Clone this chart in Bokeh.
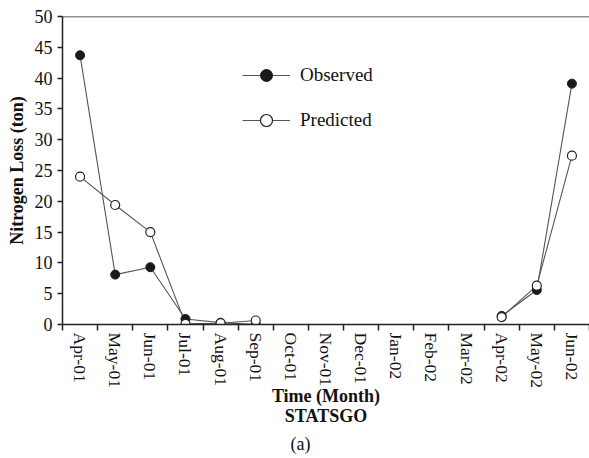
import math
from bokeh.plotting import figure
from bokeh.models import Range1d, FixedTicker, Legend, LegendItem, Span, Title
from bokeh.embed import file_html
from bokeh.resources import INLINE

nan = math.nan

months = ["Apr-01", "May-01", "Jun-01", "Jul-01", "Aug-01", "Sep-01", "Oct-01",
          "Nov-01", "Dec-01", "Jan-02", "Feb-02", "Mar-02", "Apr-02", "May-02", "Jun-02"]
observed = [43.7, 8.1, 9.3, 0.9, 0.3, 0.0, nan, nan, nan, nan, nan, nan, 1.4, 5.6, 39.1]
predicted = [24.0, 19.4, 15.0, 0.1, 0.2, 0.65, nan, nan, nan, nan, nan, nan, 1.2, 6.3, 27.4]
y_ticks = [0, 5, 10, 15, 20, 25, 30, 35, 40, 45, 50]

FONT = "Liberation Serif"

xs = [i + 0.5 for i in range(len(months))]
boundaries = list(range(len(months) + 1))

p = figure(width=589, height=458, output_backend="svg", toolbar_location=None,
           x_range=Range1d(0, len(months)), y_range=Range1d(0, 50),
           min_border_left=62, min_border_right=0, min_border_top=16, min_border_bottom=134)
p.outline_line_color = None
p.xgrid.grid_line_color = None
p.ygrid.grid_line_color = None
p.background_fill_color = "white"
p.border_fill_color = "white"

# axes
xa = p.xaxis[0]
xa.ticker = FixedTicker(ticks=xs, minor_ticks=boundaries)
xa.major_label_overrides = {x: m for x, m in zip(xs, months)}
xa.major_label_orientation = "vertical"
xa.major_tick_line_color = None
xa.major_tick_out = 6
xa.major_tick_in = 0
xa.major_label_standoff = 2
xa.minor_tick_out = 6
xa.minor_tick_in = 0
xa.minor_tick_line_color = "#222222"
xa.minor_tick_line_width = 1.5
xa.axis_line_color = "#222222"
xa.axis_line_width = 1.5
xa.major_label_text_font = FONT
xa.major_label_text_font_size = "17.5px"
xa.major_label_text_color = "#111111"
xa.axis_label = "Time (Month)\nSTATSGO"
xa.axis_label_text_font = FONT
xa.axis_label_text_font_style = "bold"
xa.axis_label_text_font_size = "18px"
xa.axis_label_text_color = "#111111"
xa.axis_label_standoff = -5
xa.axis_label_text_line_height = 1.0

ya = p.yaxis[0]
ya.ticker = FixedTicker(ticks=y_ticks)
ya.minor_tick_line_color = None
ya.major_tick_out = 5
ya.major_tick_in = 0
ya.major_tick_line_color = "#222222"
ya.major_tick_line_width = 1.5
ya.axis_line_color = "#222222"
ya.axis_line_width = 1.5
ya.major_label_standoff = 5
ya.major_label_text_font = FONT
ya.major_label_text_font_size = "18px"
ya.major_label_text_color = "#111111"
ya.axis_label = "Nitrogen Loss (ton)"
ya.axis_label_text_font = FONT
ya.axis_label_text_font_style = "bold"
ya.axis_label_text_font_size = "18px"
ya.axis_label_text_color = "#111111"
ya.axis_label_standoff = 5

# top frame line
p.add_layout(Span(location=50, dimension="width", line_color="#222222", line_width=1.5))

# series
obs_line = p.line(xs, observed, line_color="#555555", line_width=1.1)
pred_line = p.line(xs, predicted, line_color="#555555", line_width=1.1)
obs_pts = p.scatter(xs, observed, size=9, fill_color="#1a1a1a", line_color="#1a1a1a")
pred_pts = p.scatter(xs, predicted, size=9, fill_color="white", line_color="#222222", line_width=1.2)

legend = Legend(items=[LegendItem(label="Observed", renderers=[obs_line, obs_pts]),
                       LegendItem(label="Predicted", renderers=[pred_line, pred_pts])],
                location=(180, 189), glyph_width=48, glyph_height=30, spacing=15,
                padding=0, margin=0, label_standoff=10, border_line_color=None,
                background_fill_alpha=0, label_text_font=FONT, label_text_font_size="19px",
                label_text_color="#111111")
p.add_layout(legend)

# panel tag below
p.add_layout(Title(text="(a)", align="left", offset=228, text_font=FONT,
                   text_font_size="18px", text_font_style="normal", text_color="#111111",
                   standoff=6), "below")

open("out.html", "w").write(file_html(p, INLINE))
